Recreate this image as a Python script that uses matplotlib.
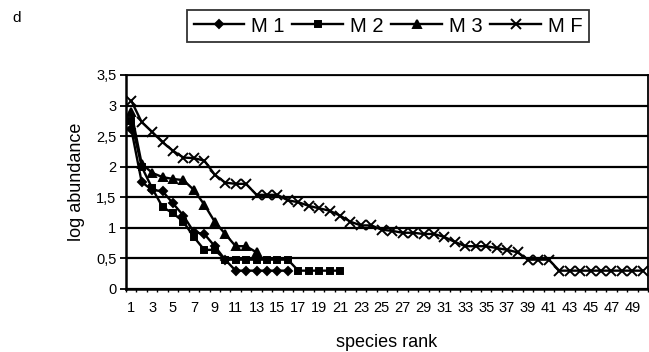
import numpy as np
import matplotlib
matplotlib.use("Agg")
import matplotlib.pyplot as plt
from matplotlib.ticker import FixedLocator, MultipleLocator

plt.rcParams["font.family"] = ["Liberation Sans", "DejaVu Sans"]

# species abundance curves (log abundance by species rank)
m1 = [2.62, 1.75, 1.62, 1.60, 1.40, 1.20, 0.93, 0.90, 0.70, 0.48,
      0.30, 0.30, 0.30, 0.30, 0.30, 0.30]
m2 = [2.75, 2.00, 1.65, 1.34, 1.24, 1.10, 0.85, 0.64, 0.64, 0.48,
      0.48, 0.48, 0.48, 0.48, 0.48, 0.48, 0.30, 0.30, 0.30, 0.30, 0.30]
m3 = [2.90, 2.05, 1.90, 1.83, 1.80, 1.78, 1.62, 1.38, 1.10, 0.90,
      0.70, 0.70, 0.60]
mf = [3.08, 2.73, 2.57, 2.40, 2.26, 2.15, 2.14, 2.10, 1.87, 1.74,
      1.72, 1.72, 1.54, 1.54, 1.54, 1.45, 1.42, 1.36, 1.32, 1.28,
      1.20, 1.10, 1.04, 1.04, 0.97, 0.95, 0.92, 0.92, 0.90, 0.90,
      0.85, 0.77, 0.70, 0.70, 0.70, 0.67, 0.64, 0.60, 0.48, 0.48,
      0.48, 0.30, 0.30, 0.30, 0.30, 0.30, 0.30, 0.30, 0.30, 0.30]

series = [("M 1", m1, "D", 4.5), ("M 2", m2, "s", 4.5),
          ("M 3", m3, "^", 5.5), ("M F", mf, "x", 6.5)]

fig = plt.figure(figsize=(6.49, 3.52), dpi=100)
ax = fig.add_axes([126 / 649, 63 / 352, 522 / 649, 214 / 352])

for name, vals, mk, ms in series:
    ranks = np.arange(1, len(vals) + 1)
    ax.plot(ranks, vals, color="black", lw=1.7, marker=mk, ms=ms,
            mew=1.4, label=name)

ax.set_xlim(0.5, 50.5)
ax.set_ylim(0, 3.5)

# horizontal gridlines like the original spreadsheet chart
ax.yaxis.set_major_locator(MultipleLocator(0.5))
ax.grid(axis="y", color="black", lw=1.6)
ax.set_axisbelow(True)
ax.set_yticklabels([f"{v:g}".replace(".", ",") for v in ax.get_yticks()])

ax.xaxis.set_major_locator(FixedLocator(np.arange(1, 50, 2)))
ax.xaxis.set_minor_locator(FixedLocator(np.arange(0.5, 51, 1)))
ax.tick_params(axis="x", which="major", length=0, labelsize=10.5, pad=9)
ax.tick_params(axis="x", which="minor", length=2, width=1, direction="out")
ax.tick_params(axis="y", length=4, width=1.3, labelsize=10.5, pad=3)

for s in ["left", "bottom"]:
    ax.spines[s].set_linewidth(1.8)
for s in ["top", "right"]:
    ax.spines[s].set_linewidth(1.3)

ax.set_xlabel("species rank", fontsize=13, labelpad=13)
ax.set_ylabel("log abundance", fontsize=13, labelpad=8)

leg = fig.legend(loc="center", bbox_to_anchor=(388 / 649, 1 - 26 / 352),
                 ncol=4, fontsize=14.5, frameon=True, fancybox=False,
                 handlelength=2.5, handletextpad=0.35, columnspacing=0.4,
                 borderpad=0.3, borderaxespad=0)
leg.get_frame().set_edgecolor("black")
leg.get_frame().set_linewidth(1.3)

fig.text(12 / 649, 1 - 18 / 352, "d", fontsize=11, va="center", ha="left")

fig.savefig("out.png", dpi=100)
